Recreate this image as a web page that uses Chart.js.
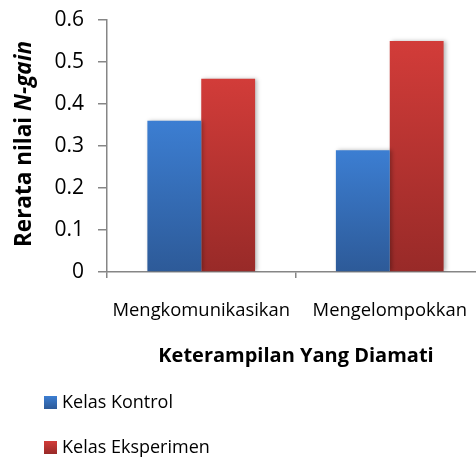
<!DOCTYPE html>
<html>
<head>
<meta charset="utf-8">
<script src="https://cdn.jsdelivr.net/npm/chart.js@4"></script>
<style>
  html, body { margin: 0; padding: 0; background: #fff; overflow: hidden; }
  #wrap { position: relative; width: 484px; height: 458px; }
</style>
</head>
<body>
<div id="wrap"><canvas id="c" width="484" height="458"></canvas></div>
<script>
const categories = ["Mengkomunikasikan", "Mengelompokkan"];
const seriesNames = ["Kelas Kontrol", "Kelas Eksperimen"];
const kontrolValues = [0.36, 0.29];
const eksperimenValues = [0.46, 0.55];
const yTicks = [0, 0.1, 0.2, 0.3, 0.4, 0.5, 0.6];
const yTitleMain = "Rerata nilai ";
const yTitleItalic = "N-gain";
const xTitle = "Keterampilan Yang Diamati";

const FONT = "'Open Sans', sans-serif";
const palettes = [
  { top: "#3c7ed2", bottom: "#2d5a98" },
  { top: "#d23c39", bottom: "#982a28" }
];

function barGradient(idx) {
  return function (ctx) {
    const chart = ctx.chart;
    const p = palettes[idx];
    if (!chart.chartArea || ctx.raw === undefined || !chart.scales.y) return p.top;
    const y = chart.scales.y;
    const yTop = y.getPixelForValue(ctx.raw);
    const yBase = y.getPixelForValue(0);
    if (!isFinite(yTop) || !isFinite(yBase) || yTop === yBase) return p.top;
    const g = chart.ctx.createLinearGradient(0, yTop, 0, yBase);
    g.addColorStop(0, p.top);
    g.addColorStop(1, p.bottom);
    return g;
  };
}

function legendGradient(ctx, idx, y0, h) {
  const p = palettes[idx];
  const g = ctx.createLinearGradient(0, y0, 0, y0 + h);
  g.addColorStop(0, p.top);
  g.addColorStop(1, p.bottom);
  return g;
}

const extrasPlugin = {
  id: "extras",
  beforeDatasetsDraw(chart) {
    const c = chart.ctx;
    c.save();
    c.shadowColor = "rgba(0,0,0,0.28)";
    c.shadowBlur = 4;
    c.shadowOffsetX = 2;
    c.shadowOffsetY = 0;
  },
  afterDatasetsDraw(chart) {
    chart.ctx.restore();
  },
  afterDraw(chart) {
    const c = chart.ctx;
    c.save();
    c.fillStyle = "#000";
    const fMain = "bold 22.5px " + FONT;
    const fIt = "italic bold 22.5px " + FONT;
    c.font = fMain;
    const w1 = c.measureText(yTitleMain).width;
    c.font = fIt;
    const w2 = c.measureText(yTitleItalic).width;
    const total = w1 + w2;
    c.translate(25, 144);
    c.rotate(-Math.PI / 2);
    c.textBaseline = "middle";
    c.textAlign = "left";
    c.font = fMain;
    c.fillText(yTitleMain, -total / 2, 0);
    c.font = fIt;
    c.fillText(yTitleItalic, -total / 2 + w1, 0);
    c.restore();

    c.save();
    c.fillStyle = "#000";
    c.font = "bold 20px " + FONT;
    c.textAlign = "center";
    c.textBaseline = "middle";
    c.fillText(xTitle, 296, 356);
    c.restore();

    c.save();
    c.font = "18px " + FONT;
    c.textBaseline = "middle";
    c.textAlign = "left";
    const rows = [402, 447];
    chart.data.datasets.forEach((ds, i) => {
      const cy = rows[i];
      c.fillStyle = legendGradient(c, i, cy - 6, 13);
      c.fillRect(44, cy - 6, 13, 13);
      c.fillStyle = "#000";
      c.fillText(ds.label, 62, cy + 1);
    });
    c.restore();
  }
};

new Chart(document.getElementById("c"), {
  type: "bar",
  data: {
    labels: categories,
    datasets: [
      { label: seriesNames[0], data: kontrolValues, backgroundColor: barGradient(0), borderWidth: 0 },
      { label: seriesNames[1], data: eksperimenValues, backgroundColor: barGradient(1), borderWidth: 0 }
    ]
  },
  options: {
    responsive: false,
    animation: false,
    devicePixelRatio: 1,
    layout: { autoPadding: false, padding: { top: 20, left: 0, right: 0, bottom: 0 } },
    plugins: { legend: { display: false }, tooltip: { enabled: false } },
    datasets: { bar: { categoryPercentage: 2 / 3.5, barPercentage: 1 } },
    scales: {
      y: {
        min: 0, max: 0.6,
        afterFit(s) { s.width = 107; s.paddingTop = 0; s.paddingBottom = 0; s.paddingLeft = 0; s.paddingRight = 0; },
        afterBuildTicks(s) { s.ticks = yTicks.map(v => ({ value: v })); },
        ticks: {
          padding: 14,
          color: "#000",
          font: { family: FONT, size: 21 },
          callback: v => (v === 0 ? "0" : v.toFixed(1))
        },
        grid: { drawOnChartArea: false, drawTicks: true, tickLength: 9, color: "#868686", lineWidth: 1.5 },
        border: { display: true, color: "#868686", width: 1.5 }
      },
      x: {
        afterFit(s) { s.height = 458 - 272; s.paddingTop = 0; s.paddingBottom = 0; s.paddingLeft = 0; s.paddingRight = 0; },
        ticks: { padding: 22, color: "#000", font: { family: FONT, size: 18.4 }, maxRotation: 0, autoSkip: false },
        grid: { offset: true, drawOnChartArea: false, drawTicks: true, tickLength: 6, color: "#868686", lineWidth: 1.5 },
        border: { display: true, color: "#868686", width: 1.5 }
      }
    }
  },
  plugins: [extrasPlugin]
});
</script>
</body>
</html>
